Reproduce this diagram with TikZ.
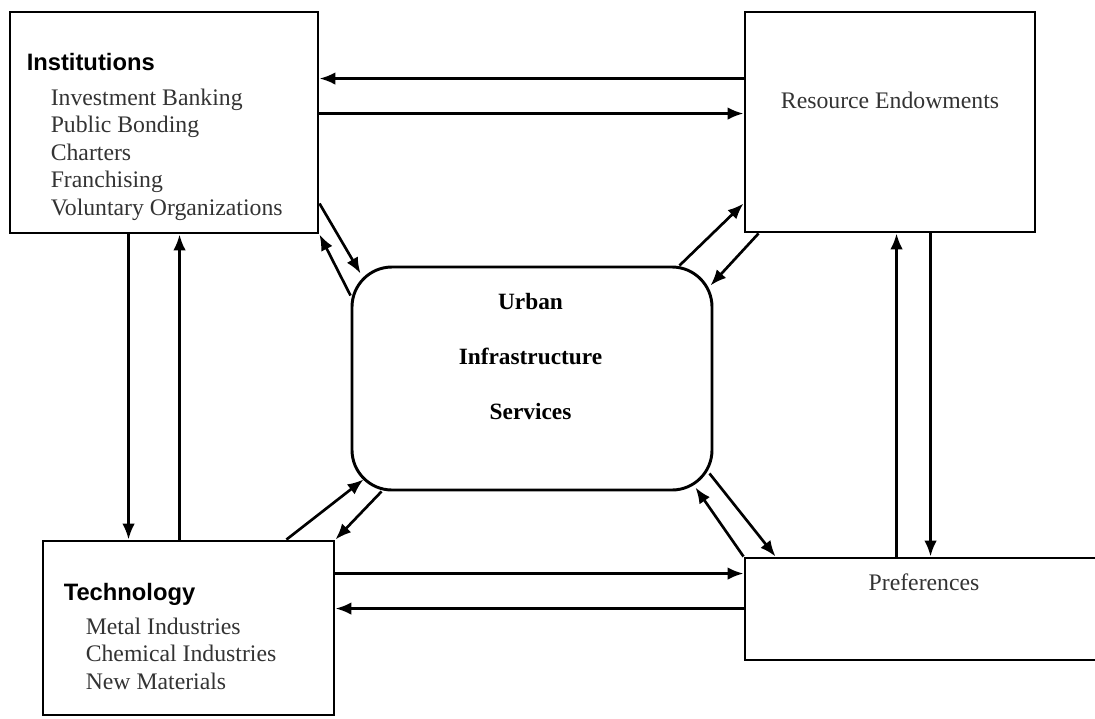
\documentclass[tikz,border=0pt]{standalone}
\usepackage{fontspec}
\setmainfont{Liberation Serif}
\setsansfont{Liberation Sans}
\usepackage{tikz}
\usetikzlibrary{arrows.meta,positioning,calc}

\tikzset{
  box/.style={draw, line width=2.2pt, rectangle, inner sep=0pt},
  roundbox/.style={draw, line width=2.2pt, rectangle, rounded corners=30pt, inner sep=0pt},
  flow/.style={line width=2pt, -{Latex[length=12pt,width=9.5pt]}},
  headtext/.style={inner sep=0pt, font=\sffamily\bfseries\fontsize{17.8}{21}\selectfont},
  itemtext/.style={inner sep=0pt, align=left, text=black!80, font=\fontsize{17.8}{20.6}\selectfont},
  plaintext/.style={inner sep=0pt, text=black!80, font=\fontsize{17.8}{20.6}\selectfont}
}

\begin{document}
\begin{tikzpicture}[x=0.75pt,y=-0.75pt]
    \useasboundingbox (0,0) rectangle (1095,718);
    \clip (0,0) rectangle (1095,718);

    % the five boxes
    \node[box, minimum width=231pt, minimum height=165.75pt] (inst) at (164,122.5) {};
    \node[box, minimum width=217.5pt, minimum height=165pt] (res) at (890,122) {};
    \node[roundbox, minimum width=270pt, minimum height=167.25pt] (uis) at (532,378.5) {};
    \node[box, minimum width=218.25pt, minimum height=130.5pt] (tech) at (188.5,628) {};
    \node[box, minimum width=268.5pt, minimum height=76.5pt] (pref) at (924,609) {};

    % texts
    \node[headtext, anchor=base west] (insthead) at ($(inst.north west)+(18,60)$) {Institutions};
    \node[itemtext, anchor=north west] (institems) at ($(inst.north west)+(42,78)$)
      {Investment Banking\\Public Bonding\\Charters\\Franchising\\Voluntary Organizations};
    \node[plaintext, anchor=base] (reslabel) at ($(res.north)+(0,98)$) {Resource Endowments};
    \node[inner sep=0pt, align=center, font=\bfseries\fontsize{17.5}{41.25}\selectfont, anchor=north] (uislabel)
      at ($(uis.north)+(-1.5,27.5)$) {Urban\\Infrastructure\\Services};
    \node[headtext, anchor=base west] (techhead) at ($(tech.north west)+(22,61)$) {Technology};
    \node[itemtext, anchor=north west] (techitems) at ($(tech.north west)+(44,78)$)
      {Metal Industries\\Chemical Industries\\New Materials};
    \node[plaintext, anchor=base] (preflabel) at ($(pref.north)+(0,34)$) {Preferences};

    % horizontal and vertical links
    \draw[flow] ($(res.north west)+(0,68)$) -- ($(inst.north east)+(0,68)$);
    \draw[flow] ($(inst.north east)+(0,103)$) -- ($(res.north west)+(0,103)$);
    \draw[flow] ($(inst.south west)+(120,0)$) -- ($(tech.north west)+(87,0)$);
    \draw[flow] ($(tech.north west)+(138,0)$) -- ($(inst.south west)+(171,0)$);
    \draw[flow] ($(tech.north east)+(0,34)$) -- ($(pref.north west)+(0,17)$);
    \draw[flow] ($(pref.north west)+(0,52)$) -- ($(tech.north east)+(0,69)$);
    \draw[flow] ($(pref.north west)+(153,0)$) -- ($(res.south west)+(153,0)$);
    \draw[flow] ($(res.south west)+(187,0)$) -- ($(pref.north west)+(187,0)$);

    % diagonal links to the centre
    \draw[flow] ($(inst.south east)+(0,-31)$) -- ($(uis.north west)+(10,8)$);
    \draw[flow] ($(uis.north west)+(0,30)$) -- (inst.south east);
    \draw[flow] ($(uis.north east)+(-34,0)$) -- ($(res.south west)+(0,-30)$);
    \draw[flow] ($(res.south west)+(15,0)$) -- ($(uis.north east)+(-3,20)$);
    \draw[flow] ($(tech.north east)+(-49,0)$) -- ($(uis.south west)+(13,-12)$);
    \draw[flow] ($(uis.south west)+(31,0)$) -- (tech.north east);
    \draw[flow] (pref.north west) -- ($(uis.south east)+(-18,-4)$);
    \draw[flow] ($(uis.south east)+(-4,-18)$) -- ($(pref.north west)+(32,0)$);
\end{tikzpicture}
\end{document}
